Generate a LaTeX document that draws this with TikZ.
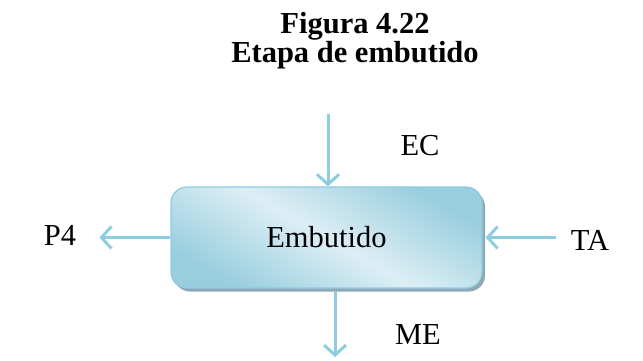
\documentclass[tikz,border=0pt]{standalone}
\usepackage{fontspec}
\setmainfont{Liberation Serif}
\usetikzlibrary{positioning,arrows.meta,shadows}
\definecolor{flowblue}{HTML}{8DCDE0}
\definecolor{boxlight}{HTML}{DDEEF5}
\definecolor{boxdark}{HTML}{98CEDE}
\definecolor{boxshadow}{HTML}{8FA9B4}
\begin{document}
\begin{tikzpicture}[x=1pt,y=1pt,
				font=\fontsize{30.5}{36}\selectfont,
				stage/.style = {rounded corners=16pt, draw=flowblue, line width=1.2pt,
					minimum width=311pt, minimum height=101pt, inner sep=0pt,
					top color=boxdark, bottom color=boxdark, middle color=boxlight, shading angle=-30,
					drop shadow={shadow xshift=3pt, shadow yshift=-3.5pt, fill=boxshadow, opacity=1}},
				flow/.style = {draw=flowblue, line width=3pt, -{Straight Barb[length=10pt,width=22pt]}},
				title/.style = {font=\fontsize{30.5}{36}\selectfont\bfseries, anchor=base}]
				\useasboundingbox (0,0) rectangle (643,360);
				
				\node[title] (fig) at (355,327) {Figura 4.22};
				\node[title] (etapa) at (355,298) {Etapa de embutido};
				
				\node[stage] (box) at (326.5,122.5) {Embutido};
				\coordinate[above=72pt of box.north, xshift=1.5pt] (ecin);
				\coordinate[xshift=1.5pt] (ecend) at (box.north);
				\coordinate[left=71pt of box.west] (p4out);
				\coordinate[right=73pt of box.east] (tain);
				\coordinate[xshift=3pt] (taend) at (box.east);
				\coordinate[below=3.5pt of box.south, xshift=8.5pt] (mestart);
				\coordinate[below=65pt of mestart] (meout);
				
				\node (ec) at (420,214) {EC};
				\node (p4) at (60,125) {P4};
				\node (ta) at (590,120) {TA};
				\node (me) at (418,25) {ME};
				
				\path[every edge/.style=flow]
				(ecin) edge (ecend)
				(box.west) edge (p4out)
				(tain) edge (taend)
				(mestart) edge (meout);
				\end{tikzpicture}
\end{document}
